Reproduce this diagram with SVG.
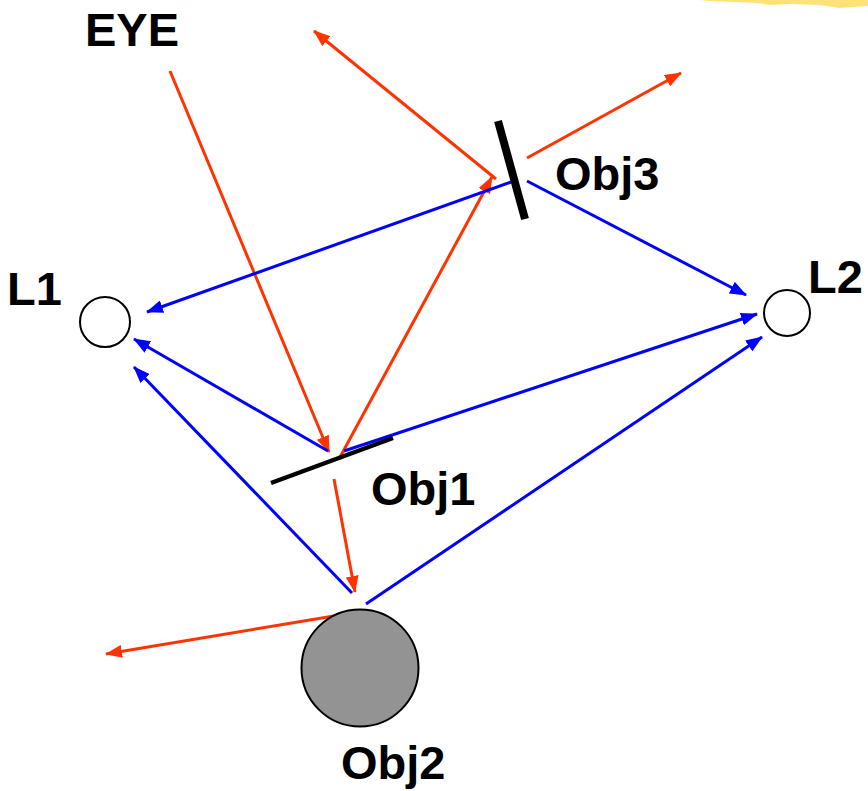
<svg xmlns="http://www.w3.org/2000/svg" width="868" height="791" viewBox="0 0 868 791">
<style>
.lbl{font-family:"Liberation Sans",Arial,sans-serif;font-weight:bold;font-size:47px;fill:#000}
.red{stroke:#ff3300;stroke-width:3;fill:none}
.blue{stroke:#0000ff;stroke-width:3;fill:none}
.lamp{fill:#fff;stroke:#000;stroke-width:2}
</style>
<defs>
<marker id="ar" markerUnits="userSpaceOnUse" markerWidth="17" markerHeight="13" refX="16" refY="6.5" orient="auto"><path d="M0,0 L17,6.5 L0,13 z" fill="#ff3300"/></marker>
<marker id="ab" markerUnits="userSpaceOnUse" markerWidth="17" markerHeight="13" refX="16" refY="6.5" orient="auto"><path d="M0,0 L17,6.5 L0,13 z" fill="#0000ff"/></marker>
</defs>
<path d="M700,0 L868,0 L868,6 L840,8 L820,5 L790,4 L770,5 L758,3 L735,2 L710,1 Z" fill="#ffd84a" opacity="0.75"/>
<g id="connectors">
<line class="red" x1="170" y1="71" x2="329" y2="452" marker-end="url(#ar)"/>
<line class="red" x1="339" y1="459" x2="492" y2="177" marker-end="url(#ar)"/>
<line class="red" x1="496" y1="179" x2="314" y2="31" marker-end="url(#ar)"/>
<line class="red" x1="527" y1="158" x2="681" y2="73" marker-end="url(#ar)"/>
<line class="red" x1="334" y1="479" x2="355" y2="592" stroke-width="4.5" marker-end="url(#ar)"/>
<line class="red" x1="358" y1="612" x2="106" y2="654" marker-end="url(#ar)"/>
<line class="blue" x1="511" y1="182" x2="147" y2="312" marker-end="url(#ab)"/>
<line class="blue" x1="527" y1="181" x2="746" y2="295" marker-end="url(#ab)"/>
<line class="blue" x1="328" y1="451" x2="134" y2="339" marker-end="url(#ab)"/>
<line class="blue" x1="344" y1="451" x2="757" y2="314" marker-end="url(#ab)"/>
<line class="blue" x1="366" y1="604" x2="762" y2="337" marker-end="url(#ab)"/>
<line class="blue" x1="352" y1="593" x2="134" y2="367" marker-end="url(#ab)"/>
</g>
<g id="eye"><text class="lbl" x="85" y="46">EYE</text></g>
<g id="L1"><circle class="lamp" cx="105" cy="322" r="25"/><text class="lbl" x="7" y="305">L1</text></g>
<g id="L2"><circle class="lamp" cx="787" cy="313" r="23"/><text class="lbl" x="808" y="293">L2</text></g>
<g id="obj1"><line x1="271" y1="483" x2="393" y2="438" stroke="#000" stroke-width="4.5"/><text class="lbl" x="371" y="505">Obj1</text></g>
<g id="obj2"><circle cx="360" cy="668" r="58.5" fill="#939393" stroke="#000" stroke-width="2"/><text class="lbl" x="341" y="779">Obj2</text></g>
<g id="obj3"><line x1="498" y1="121" x2="525" y2="219" stroke="#000" stroke-width="8"/><text class="lbl" x="555" y="190">Obj3</text></g>
</svg>
